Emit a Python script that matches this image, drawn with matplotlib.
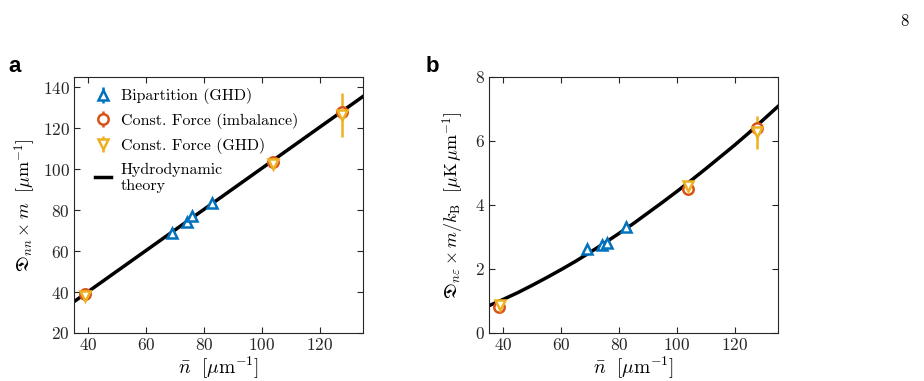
import matplotlib
matplotlib.use('Agg')
import matplotlib.pyplot as plt

plt.rcParams['font.family'] = 'serif'
plt.rcParams['font.serif'] = ['cmr10', 'DejaVu Serif']
plt.rcParams['mathtext.fontset'] = 'cm'
plt.rcParams['axes.formatter.use_mathtext'] = True
plt.rcParams['axes.unicode_minus'] = False

blue = '#0072BD'
orange = '#D95319'
yellow = '#EDB120'

# panel a: D_nn x m
bip_n = [68.9, 74.0, 75.9, 82.6]
bip_dnn = [68.7, 74.4, 76.9, 83.4]
imb_n = [38.7, 103.8, 127.6]
imb_dnn = [38.8, 103.6, 128.0]
imb_dnn_err = [0.8, 1.2, 3.0]
cf_n = [38.9, 104.0, 127.6]
cf_dnn = [38.0, 102.6, 126.5]
cf_dnn_err = [1.0, 1.5, 10.8]
th_n = [35, 135]
th_dnn = [35.3, 135.5]

# panel b: D_ne x m / kB
bip_dne = [2.63, 2.75, 2.80, 3.30]
imb_dne = [0.80, 4.50, 6.40]
imb_dne_err = [0.05, 0.08, 0.20]
cf_dne = [0.87, 4.58, 6.27]
cf_dne_err = [0.06, 0.10, 0.52]
thb_n = [35, 40, 45, 50, 55, 60, 65, 70, 75, 80, 85, 90, 95, 100,
         105, 110, 115, 120, 125, 130, 135]
thb_dne = [0.85, 1.05, 1.26, 1.49, 1.73, 1.98, 2.24, 2.52, 2.81, 3.11, 3.42,
           3.75, 4.08, 4.42, 4.77, 5.13, 5.50, 5.87, 6.26, 6.67, 7.08]

fig = plt.figure(figsize=(9.24, 3.81), dpi=100)
ax1 = fig.add_axes([0.0801, 0.126, 0.3128, 0.672])
ax2 = fig.add_axes([0.529, 0.126, 0.313, 0.672])

mk = dict(ms=7.5, mew=1.8, mfc='white', lw=0, elinewidth=1.8, capsize=0)

# panel a
h_th, = ax1.plot(th_n, th_dnn, '-', color='black', lw=2.5, zorder=1)
h_bip = ax1.errorbar(bip_n, bip_dnn, yerr=[0.5] * 4, fmt='^', color=blue, **mk)
h_imb = ax1.errorbar(imb_n, imb_dnn, yerr=imb_dnn_err, fmt='o', color=orange, **mk)
h_cf = ax1.errorbar(cf_n, cf_dnn, yerr=cf_dnn_err, fmt='v', color=yellow, **mk)

ax1.set_xlim(35, 135)
ax1.set_ylim(20, 145)
ax1.set_xticks([40, 60, 80, 100, 120])
ax1.set_yticks([20, 40, 60, 80, 100, 120, 140])
ax1.set_xlabel(r'$\bar{n}\ \ [\mu\mathrm{m}^{-1}]$', fontsize=14, labelpad=1)
ax1.set_ylabel(r'$\mathfrak{D}_{nn} \times m\ \ [\mu\mathrm{m}^{-1}]$', fontsize=13, labelpad=3)

ax1.legend([h_bip, h_imb, h_cf, h_th],
           ['Bipartition (GHD)', 'Const. Force (imbalance)', 'Const. Force (GHD)',
            'Hydrodynamic\ntheory'],
           loc='upper left', frameon=False, fontsize=11.5, handlelength=1.0,
           handletextpad=0.6, labelspacing=0.55, borderaxespad=0.3,
           bbox_to_anchor=(0.035, 1.0))

# panel b
ax2.plot(thb_n, thb_dne, '-', color='black', lw=2.5, zorder=1)
ax2.errorbar(bip_n, bip_dne, yerr=[0.03] * 4, fmt='^', color=blue, **mk)
ax2.errorbar(imb_n, imb_dne, yerr=imb_dne_err, fmt='o', color=orange, **mk)
ax2.errorbar(cf_n, cf_dne, yerr=cf_dne_err, fmt='v', color=yellow, **mk)

ax2.set_xlim(35, 135)
ax2.set_ylim(0, 8)
ax2.set_xticks([40, 60, 80, 100, 120])
ax2.set_yticks([0, 2, 4, 6, 8])
ax2.set_xlabel(r'$\bar{n}\ \ [\mu\mathrm{m}^{-1}]$', fontsize=14, labelpad=1)
ax2.set_ylabel(r'$\mathfrak{D}_{n\varepsilon} \times m/k_\mathrm{B}\ \ [\mu\mathrm{K}\,\mu\mathrm{m}^{-1}]$',
               fontsize=13, labelpad=6)

for ax in (ax1, ax2):
    ax.tick_params(direction='in', top=True, right=True, length=4, width=0.8,
                   labelsize=12.5, colors='#262626', pad=3)
    for s in ax.spines.values():
        s.set_linewidth(0.8)
        s.set_color('#262626')

fig.text(0.009, 0.81, 'a', fontsize=16, fontweight='bold', family='Liberation Sans')
fig.text(0.461, 0.81, 'b', fontsize=16, fontweight='bold', family='Liberation Sans')
fig.text(0.983, 0.965, '8', fontsize=12, ha='right', va='top')

fig.savefig('out.png', dpi=100)
